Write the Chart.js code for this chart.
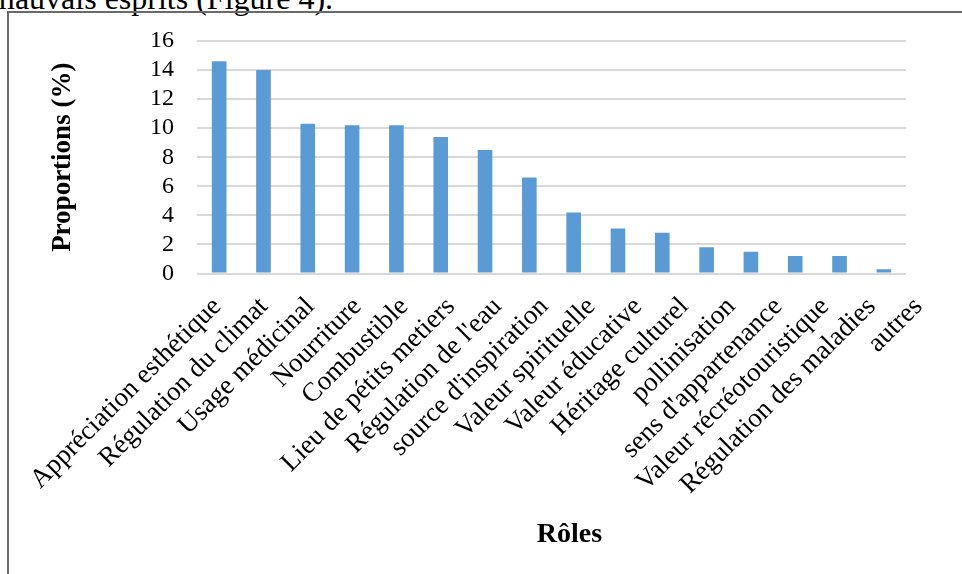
<!DOCTYPE html>
<html lang="fr">
<head>
<meta charset="utf-8">
<title>Rôles - proportions</title>
<script src="https://cdn.jsdelivr.net/npm/chart.js"></script>
<style>
    html, body { margin: 0; padding: 0; background: #fff; overflow: hidden; }
    #page { position: relative; width: 962px; height: 574px; overflow: hidden; }
    #texteHaut {
        position: absolute; left: -10px; top: -18px; margin: 0;
        font: 32px/32px "Liberation Serif", "Times New Roman", serif; color: #000; white-space: nowrap;
    }
    #cadre {
        position: absolute; left: 7px; top: 11px; width: 1000px; height: 1000px;
        border-left: 2px solid #6a6a6a; border-top: 2px solid #6a6a6a;
    }
    #zoneGraphique { position: absolute; left: 0; top: 0; width: 962px; height: 574px; }
</style>
</head>
<body>
<div id="page">
    <p id="texteHaut">mauvais esprits (Figure 4).</p>
    <div id="cadre"></div>
    <div id="zoneGraphique"><canvas id="graphRoles"></canvas></div>
</div>
<script>
    // categories (roles) et proportions en %
    const roles = [
        'Appréciation esthétique', 'Régulation du climat', 'Usage médicinal', 'Nourriture',
        'Combustible', 'Lieu de pétits metiers', "Régulation de l'eau", "source d'inspiration",
        'Valeur spirituelle', 'Valeur éducative', 'Héritage culturel', 'pollinisation',
        "sens d'appartenance", 'Valeur récréotouristique', 'Régulation des maladies', 'autres'
    ];
    const proportions = [14.6, 14.0, 10.3, 10.2, 10.2, 9.4, 8.5, 6.6, 4.2, 3.1, 2.8, 1.8, 1.5, 1.2, 1.2, 0.3];

    // axe Y : 0 a 16 par pas de 2
    const yMin = 0;
    const yMax = 16;
    const yPas = 2;

    const titreX = 'Rôles';
    const titreY = 'Proportions (%)';

    const police = '"Liberation Serif", "Times New Roman", serif';

    // etiquettes inclinees a 45 degres + titre de l'axe des categories
    const etiquettesRoles = {
        id: 'etiquettesRoles',
        afterDraw(chart) {
            const ctx = chart.ctx;
            const axeX = chart.scales.x;
            const zone = chart.chartArea;
            const pas = (axeX.getPixelForValue(1) - axeX.getPixelForValue(0)) * 1.055;
            const x0 = axeX.getPixelForValue(0) + 3;
            const y0 = zone.bottom + 34;
            ctx.save();
            ctx.font = '27px ' + police;
            ctx.fillStyle = '#000';
            ctx.textAlign = 'right';
            ctx.textBaseline = 'alphabetic';
            for (let i = 0; i < roles.length; i++) {
                ctx.save();
                ctx.translate(x0 + i * pas, y0);
                ctx.rotate(-Math.PI / 4);
                ctx.fillText(roles[i], 0, 0);
                ctx.restore();
            }
            // titre centre sous le bloc des etiquettes
            ctx.font = 'bold 28px ' + police;
            ctx.textAlign = 'center';
            ctx.fillText(titreX, (zone.left + zone.right) / 2 + 18, zone.bottom + 268);
            ctx.restore();
        }
    };

    const dados = {
        labels: roles,
        datasets: [{
            label: 'Proportions',
            data: proportions,
            backgroundColor: '#5b9bd5',
            borderWidth: 0,
            barPercentage: 0.33,
            categoryPercentage: 1
        }]
    };

    const config = {
        type: 'bar',
        data: dados,
        options: {
            responsive: true,
            maintainAspectRatio: false,
            devicePixelRatio: 1,
            animation: false,
            layout: { padding: { left: 47, right: 56, top: 41, bottom: 20 } },
            plugins: {
                legend: { display: false },
                tooltip: { enabled: false }
            },
            scales: {
                x: {
                    grid: { display: false },
                    border: { display: false },
                    ticks: { display: false },
                    afterFit(scale) {
                        scale.height = 280.5;
                    }
                },
                y: {
                    min: yMin,
                    max: yMax,
                    ticks: {
                        stepSize: yPas,
                        autoSkip: false,
                        color: '#000',
                        padding: 23,
                        font: { family: police, size: 24 }
                    },
                    grid: { color: '#d9d9d9', lineWidth: 2, drawTicks: false },
                    border: { display: false },
                    title: {
                        display: true,
                        text: titreY,
                        color: '#000',
                        font: { family: police, size: 27, weight: 'bold' },
                        padding: 0
                    },
                    afterFit(scale) {
                        scale.width = 150;
                    }
                }
            }
        },
        plugins: [etiquettesRoles]
    };

    let myChart = new Chart(document.getElementById('graphRoles'), config);
</script>
</body>
</html>
